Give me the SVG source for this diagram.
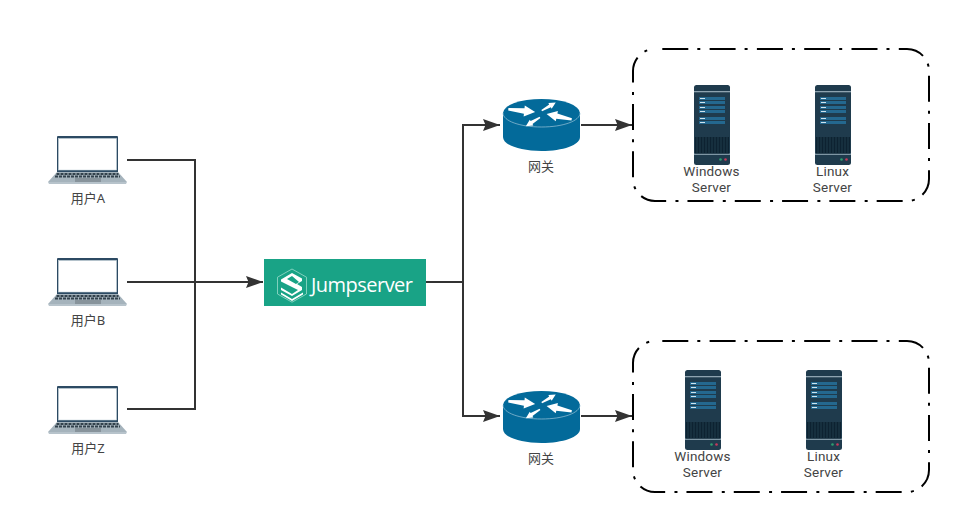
<svg xmlns="http://www.w3.org/2000/svg" width="961" height="526" viewBox="0 0 961 526">
<style>
text{font-family:"Noto Sans","Noto Sans CJK SC",sans-serif;font-size:13px;fill:#444;text-anchor:middle}
text.s{font-family:Roboto,"Noto Sans",sans-serif;font-size:13.500px;letter-spacing:.2px}
.c{fill:none;stroke:#333;stroke-width:2}
.g{fill:none;stroke:#000;stroke-width:2;stroke-dasharray:26 9 3 9.300;stroke-dashoffset:40}
</style>
<defs>
<marker id="a" markerUnits="userSpaceOnUse" markerWidth="18" markerHeight="12" refX="17" refY="6" orient="auto"><path d="M0 0L17 6L0 12L2.500 6Z" fill="#333"/></marker>
<path id="ar" d="M0 -1.200L16 -2.800L16 -5.500L27 0L16 5.500L16 2.800L0 1.200Z" fill="#fff"/>
<symbol id="laptop" overflow="visible">
<path d="M10 0H69Q70 0 70 1V36H9V1Q9 0 10 0Z" fill="#2c4a63"/>
<rect x="10.500" y="2.500" width="58" height="31.500" fill="#fff" stroke="#c9d5dc" stroke-width=".6"/>
<path d="M9 36H70L79 46H0Z" fill="#a5b3bc"/>
<path d="M8.500 38H70.500M7 40.500H72" stroke="#33424d" stroke-width="1.800" stroke-dasharray="3 1"/>
<rect x="27" y="42" width="26" height="4" fill="#87939b"/>
<path d="M0 46H79L78 48H1Z" fill="#b7c3cb"/>
</symbol>
<symbol id="router" overflow="visible">
<path d="M0 14V38C0 46 17 52 38.500 52S77 46 77 38V14Z" fill="#036a9a"/>
<ellipse cx="38.500" cy="14" rx="38.500" ry="14" fill="#036a9a"/>
<path d="M0 14C0 22 17 28 38.500 28S77 22 77 14" fill="none" stroke="#9cc4d8" stroke-width=".7"/>
<use href="#ar" transform="translate(5.300 10.300) rotate(6)"/>
<use href="#ar" transform="translate(38.700 11.700) rotate(-30) scale(.6)"/>
<use href="#ar" transform="translate(68.700 20.300) rotate(192) scale(.95)"/>
<use href="#ar" transform="translate(37 18.300) rotate(148) scale(.62)"/>
</symbol>
<symbol id="server" overflow="visible">
<rect width="36" height="80" rx="2.500" fill="#1f3b4d"/>
<rect y="6" width="36" height="1.300" fill="#8ea3b0"/>
<rect y="68.500" width="36" height="1.500" fill="#7f96a4"/>
<g fill="#24688f">
<rect x="5" y="12" width="26" height="3"/><rect x="5" y="16" width="26" height="3"/>
<rect x="5" y="21" width="26" height="3"/><rect x="5" y="25" width="26" height="3"/>
<rect x="5" y="32" width="26" height="3"/><rect x="5" y="36" width="26" height="3"/>
</g>
<g fill="#cfe3ee">
<rect x="6" y="13" width="5" height="1"/><rect x="6" y="17" width="5" height="1"/>
<rect x="6" y="22" width="5" height="1"/><rect x="6" y="26" width="5" height="1"/>
<rect x="6" y="33" width="5" height="1"/><rect x="6" y="37" width="5" height="1"/>
</g>
<rect x="1" y="52" width="34" height="16.500" fill="#0d2231"/>
<path d="M3 52V68.500M6 52V68.500M9 52V68.500M12 52V68.500M15 52V68.500M18 52V68.500M21 52V68.500M24 52V68.500M27 52V68.500M30 52V68.500M33 52V68.500" stroke="#2a4759" stroke-width=".7"/>
<circle cx="26.500" cy="74.500" r="1.300" fill="#2e9e6e"/>
<circle cx="31.500" cy="74.500" r="1.300" fill="#c73a5c"/>
</symbol>
</defs>
<rect width="961" height="526" fill="#fff"/>
<g id="connectors">
<path class="c" d="M127 160H195V409H127"/>
<path class="c" d="M127 282H263" marker-end="url(#a)"/>
<path class="c" d="M426 282H463V125H500" marker-end="url(#a)"/>
<path class="c" d="M463 282V416H500" marker-end="url(#a)"/>
<path class="c" d="M581 125H632" marker-end="url(#a)"/>
<path class="c" d="M581 416H632" marker-end="url(#a)"/>
</g>
<g id="group-top"><rect class="g" x="633" y="49" width="296" height="152" rx="22"/></g>
<g id="group-bottom"><rect class="g" x="633" y="341" width="296" height="151" rx="22"/></g>
<g id="user-a"><use href="#laptop" x="48" y="136"/><text x="88" y="203">用户A</text></g>
<g id="user-b"><use href="#laptop" x="48" y="258"/><text x="88" y="325">用户B</text></g>
<g id="user-z"><use href="#laptop" x="48" y="386"/><text x="88" y="453">用户Z</text></g>
<g id="jumpserver">
<rect x="264" y="259" width="162" height="47" fill="#19a386"/>
<path d="M292 269L306.500 277.200V294L292 302.200L277.500 294V277.200Z" fill="none" stroke="#9bdccb" stroke-width=".8"/>
<path d="M281 279.500L292 273L302 278.500V281L297 284L302 287V290L292 296L281 290V287.500L292 294L298 290L281 281.500ZM287 279L296 284L299 282L292 276Z" fill="#fff"/>
<path d="M281 292.500L292 299L303 292.500V294.500L292 301L281 294.500Z" fill="#fff"/>
<text x="311" y="292" textLength="102" lengthAdjust="spacing" style="font-size:20px;fill:#fff;font-family:'Open Sans','Noto Sans',sans-serif;text-anchor:start">Jumpserver</text>
</g>
<g id="gateway-top"><use href="#router" x="503" y="99"/><text x="541" y="171">网关</text></g>
<g id="gateway-bottom"><use href="#router" x="503" y="391"/><text x="541" y="463">网关</text></g>
<g id="windows-top"><use href="#server" x="694" y="85"/><text class="s"><tspan x="711.500" y="176">Windows</tspan><tspan x="711.500" y="192">Server</tspan></text></g>
<g id="linux-top"><use href="#server" x="815" y="85"/><text class="s"><tspan x="832.500" y="176">Linux</tspan><tspan x="832.500" y="192">Server</tspan></text></g>
<g id="windows-bottom"><use href="#server" x="685" y="370"/><text class="s"><tspan x="702.500" y="461">Windows</tspan><tspan x="702.500" y="477">Server</tspan></text></g>
<g id="linux-bottom"><use href="#server" x="806" y="370"/><text class="s"><tspan x="823.500" y="461">Linux</tspan><tspan x="823.500" y="477">Server</tspan></text></g>
</svg>
